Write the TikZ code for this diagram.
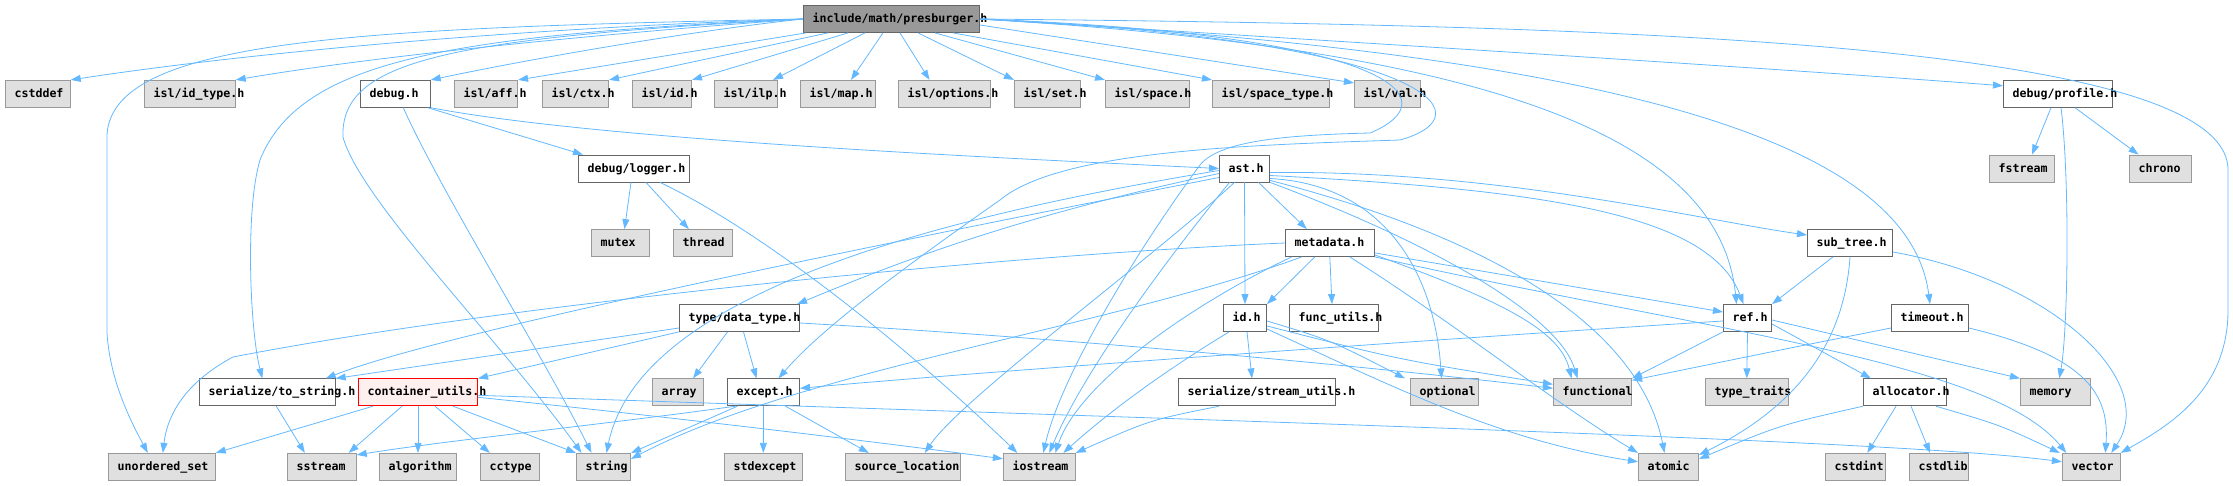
\documentclass[tikz,border=0pt]{standalone}
\usepackage{fontspec}
\setmonofont{DejaVu Sans Mono}
\usetikzlibrary{arrows.meta}

\definecolor{edgeblue}{HTML}{63B8FF}
\definecolor{sysfill}{HTML}{E0E0E0}
\definecolor{sysdraw}{HTML}{999999}
\definecolor{hdrdraw}{HTML}{666666}
\definecolor{rootfill}{HTML}{999999}
\definecolor{cyclefill}{HTML}{FFF0F0}

\tikzset{
  box/.style={draw, minimum height=27pt, inner sep=0pt, line width=0.8pt},
  sysbox/.style={box, draw=sysdraw, fill=sysfill},
  hdrbox/.style={box, draw=hdrdraw, fill=white},
  rootbox/.style={box, draw=hdrdraw, fill=rootfill},
  cyclebox/.style={box, draw=red, fill=cyclefill},
  fname/.style={anchor=base west, inner sep=0pt, font=\ttfamily\bfseries\fontsize{11.6pt}{12pt}\selectfont},
  dep/.style={draw=edgeblue, line width=0.8pt, -{Triangle[length=10pt,width=7pt]}},
}

\begin{document}
\begin{tikzpicture}[x=1pt,y=-1pt]
  \useasboundingbox (0,0) rectangle (2233,485);

  % headers of the project
  \node[rootbox, minimum width=176.3pt] (root) at (891.5,19) {};
  \node[fname] (root-t) at ([xshift=9.5pt,yshift=-3.5pt]root.west) {include/math/presburger.h};
  \node[cyclebox, minimum width=119.3pt] (containerutils) at (418,392.3) {};
  \node[fname] (containerutils-t) at ([xshift=9.5pt,yshift=-3.5pt]containerutils.west) {container\_utils.h};
  \foreach \n/\x/\y/\w/\t in {
      debug/395.3/93.8/70/debug.h, profile/2058/93.8/109.3/{debug/profile.h},
      logger/634/168.5/111.3/{debug/logger.h}, ast/1244.5/168.5/50.3/ast.h,
      metadata/1329.8/243/89/metadata.h, subtree/1850/243/85.3/sub\_tree.h,
      datatype/739.5/318/120.3/{type/data\_type.h}, id/1245/318/43.3/id.h,
      funcutils/1334/318/89.3/func\_utils.h, ref/1747.5/318/48.3/ref.h,
      timeout/1930/318/77.3/timeout.h,
      tostring/267.3/392.3/136/{serialize/to\_string.h}, except/763.5/392.3/72.3/except.h,
      streamutils/1257/392.3/157.3/{serialize/stream\_utils.h}, allocator/1905/392.3/83.3/allocator.h} {
    \node[hdrbox, minimum width=\w pt] (\n) at (\x,\y) {};
    \node[fname] (\n-t) at ([xshift=9.5pt,yshift=-3.5pt]\n.west) {\t};
  }

  % system and isl headers
  \foreach \n/\x/\y/\w/\t in {
      cstddef/37.8/93.8/65/cstddef, idtype/189.8/93.8/91/{isl/id\_type.h},
      aff/486/93.8/63.3/{isl/aff.h}, ctx/575.5/93.8/66.3/{isl/ctx.h},
      islid/662/93.8/59.3/{isl/id.h}, ilp/746/93.8/63.3/{isl/ilp.h},
      map/838/93.8/75.3/{isl/map.h}, options/944.5/93.8/92.3/{isl/options.h},
      set/1047.5/93.8/66.3/{isl/set.h}, space/1147.5/93.8/84.3/{isl/space.h},
      spacetype/1271/93.8/117.3/{isl/space\_type.h}, val/1387.3/93.8/66/{isl/val.h},
      fstream/2022/168.5/65.3/fstream, chrono/2160.5/168.5/62.3/chrono,
      mutex/620.5/243/58.3/mutex, thread/702.8/243/59/thread,
      array/678/392.3/51.3/array, optional/1444.5/392.3/68.3/optional,
      functional/1592.5/392.3/78.3/functional, typetraits/1746.8/392.3/83/type\_traits,
      memory/2055.3/392.3/70/memory,
      unorderedset/161.8/466.8/107/unordered\_set, sstream/321.8/466.8/69/sstream,
      algorithm/418/466.8/77.3/algorithm, cctype/509.8/466.8/59/cctype,
      string/603.5/466.8/54.3/string, stdexcept/763.3/466.8/78/stdexcept,
      sourceloc/902.8/466.8/115/source\_location, iostream/1039.3/466.8/72/iostream,
      atomic/1668.5/466.8/60.3/atomic, cstdint/1855.3/466.8/60/cstdint,
      cstdlib/1939/466.8/59.3/cstdlib, vector/2091.3/466.8/58/vector} {
    \node[sysbox, minimum width=\w pt] (\n) at (\x,\y) {};
    \node[fname] (\n-t) at ([xshift=9.5pt,yshift=-3.5pt]\n.west) {\t};
  }

  % include/math/presburger.h
  \draw[dep] (root.west) .. controls (600,25) and (300,45) .. (cstddef.north east);
  \draw[dep] (root.west) .. controls (650,30) and (400,52) .. (idtype.north east);
  \draw[dep] (root.west) .. controls (350,28) and (112,40) .. (107,135) -- (107,333)
    .. controls (110,380) and (130,420) .. ([xshift=-14pt]unorderedset.north);
  \draw[dep] (root.west) .. controls (450,35) and (300,60) .. (260,160)
    .. controls (245,210) and (250,330) .. ([xshift=-5pt]tostring.north);
  \draw[dep] (root.west) .. controls (450,38) and (340,60) .. (343,137)
    .. controls (360,200) and (500,340) .. ([xshift=-22pt]string.north);
  \draw[dep] (root.west) .. controls (700,30) and (550,55) .. (debug.north east);
  \draw[dep] ([xshift=3pt]root.south west) -- (aff.north east);
  \draw[dep] ([xshift=25pt]root.south west) -- (ctx.north east);
  \draw[dep] ([xshift=45pt]root.south west) -- (islid.north east);
  \draw[dep] ([xshift=62pt]root.south west) -- ([xshift=-5pt]ilp.north east);
  \draw[dep] ([xshift=80pt]root.south west) -- ([xshift=13pt]map.north);
  \draw[dep] ([xshift=97pt]root.south west) -- ([xshift=-15pt]options.north);
  \draw[dep] ([xshift=115pt]root.south west) -- (set.north west);
  \draw[dep] ([xshift=132pt]root.south west) -- (space.north west);
  \draw[dep] ([xshift=150pt]root.south west) -- (spacetype.north west);
  \draw[dep] ([yshift=-6pt]root.east) -- ([yshift=-3pt]val.north west);
  \draw[dep] (root.east) .. controls (1400,45) and (1800,70) .. ([yshift=8pt]profile.west);
  \draw[dep] (root.east) .. controls (1600,25) and (2228,40) .. (2228,170) -- (2228,310)
    .. controls (2228,390) and (2170,425) .. (vector.north east);
  \draw[dep] (root.east) .. controls (1500,50) and (1720,140) .. ([xshift=-11pt]ref.north);
  \draw[dep] (root.east) .. controls (1650,55) and (1910,150) .. (timeout.north);
  \draw[dep] (root.east) .. controls (1400,35) and (1450,100) .. (1370,133)
    .. controls (1290,135) and (1220,140) .. (1200,165)
    .. controls (1130,260) and (1060,380) .. ([xshift=4pt]iostream.north);
  \draw[dep] (root.east) .. controls (1430,40) and (1490,115) .. (1400,140)
    .. controls (1250,145) and (1060,150) .. (1000,200)
    .. controls (900,270) and (820,330) .. ([xshift=15pt]except.north);

  % debug.h, debug/logger.h, debug/profile.h
  \draw[dep] ([xshift=-3pt]debug.south east) -- ([xshift=5pt]logger.north west);
  \draw[dep] (debug.south east) .. controls (600,140) and (1000,158) .. (ast.west);
  \draw[dep] ([xshift=8pt]debug.south) .. controls (440,190) and (540,350) .. ([xshift=-12pt]string.north);
  \draw[dep] ([xshift=-3pt]logger.south) -- ([xshift=4pt]mutex.north);
  \draw[dep] ([xshift=12pt]logger.south) -- ([xshift=-14pt]thread.north);
  \draw[dep] ([xshift=26pt]logger.south) .. controls (760,230) and (900,340) .. ([xshift=-22pt]iostream.north);
  \draw[dep] ([xshift=-7pt]profile.south) -- ([xshift=10pt]fstream.north);
  \draw[dep] ([xshift=17pt]profile.south) -- ([xshift=-22pt]chrono.north);
  \draw[dep] ([xshift=3pt]profile.south) .. controls (2070,180) and (2068,330) .. ([xshift=4pt]memory.north);

  % ast.h
  \draw[dep] ([xshift=14pt]ast.south) -- ([xshift=-23pt]metadata.north);
  \draw[dep] (ast.south) -- (id.north);
  \draw[dep] ([yshift=-4pt]ast.east) .. controls (1500,170) and (1700,220) .. ([yshift=8pt]subtree.west);
  \draw[dep] ([yshift=-7pt]ast.east) .. controls (1550,190) and (1710,215) .. ([xshift=-4pt]ref.north);
  \draw[dep] ([yshift=-10pt]ast.east) .. controls (1390,185) and (1435,280) .. ([xshift=-3pt]optional.north);
  \draw[dep] (ast.south east) .. controls (1450,250) and (1560,320) .. ([xshift=-15pt]functional.north);
  \draw[dep] ([yshift=2pt]ast.south east) .. controls (1500,240) and (1640,330) .. ([xshift=-4pt]atomic.north);
  \draw[dep] ([yshift=-5pt]ast.west) .. controls (1000,220) and (880,270) .. ([xshift=-3pt]datatype.north east);
  \draw[dep] ([yshift=-9pt]ast.west) .. controls (900,240) and (450,330) .. ([xshift=-10pt]tostring.north east);
  \draw[dep] ([yshift=-2pt]ast.west) .. controls (950,215) and (640,290) .. ([xshift=3pt]string.north);
  \draw[dep] ([xshift=-10pt]ast.south) .. controls (1150,260) and (960,400) .. ([xshift=22pt]sourceloc.north);
  \draw[dep] ([xshift=-15pt]ast.south) .. controls (1150,280) and (1080,380) .. ([xshift=10pt]iostream.north);

  % metadata.h
  \draw[dep] ([xshift=-15pt]metadata.south) -- (id.north east);
  \draw[dep] (metadata.south) -- ([xshift=-2pt]funcutils.north);
  \draw[dep] ([xshift=-38pt]metadata.south) .. controls (1200,300) and (1080,380) .. ([xshift=16pt]iostream.north);
  \draw[dep] ([xshift=-28pt]metadata.south) .. controls (1100,330) and (800,370) .. ([yshift=-6pt]string.north east);
  \draw[dep] (metadata.west) .. controls (1000,255) and (500,305) .. (233,357)
    .. controls (190,380) and (168,410) .. ([xshift=1pt]unorderedset.north);
  \draw[dep] ([yshift=4pt]metadata.south east) -- ([yshift=6pt]ref.west);
  \draw[dep] ([yshift=2pt]metadata.south east) .. controls (1500,300) and (1560,330) .. ([xshift=-21pt]functional.north);
  \draw[dep] ([xshift=-25pt]metadata.south east) .. controls (1450,320) and (1550,400) .. (atomic.north west);
  \draw[dep] (metadata.south east) .. controls (1700,330) and (1990,360) .. ([xshift=-25pt]vector.north);

  % id.h, sub_tree.h, ref.h, timeout.h
  \draw[dep] ([xshift=2pt]id.south) -- ([xshift=-5pt]streamutils.north);
  \draw[dep] ([xshift=-16pt]id.south) .. controls (1150,380) and (1100,420) .. ([xshift=24pt]iostream.north);
  \draw[dep] ([yshift=-3pt]id.east) .. controls (1330,340) .. ([xshift=-5pt]optional.north west);
  \draw[dep] ([yshift=-8pt]id.east) .. controls (1400,360) .. ([yshift=8pt]functional.west);
  \draw[dep] ([yshift=-11pt]id.east) .. controls (1400,390) and (1500,440) .. ([yshift=5pt]atomic.west);
  \draw[dep] ([xshift=-17pt]subtree.south) -- (ref.north east);
  \draw[dep] (subtree.south) .. controls (1845,330) and (1810,400) .. ([yshift=-2pt]atomic.north east);
  \draw[dep] ([yshift=-9pt]subtree.east) .. controls (2050,280) and (2160,380) .. ([xshift=20pt]vector.north);
  \draw[dep] ([yshift=-3pt]ref.west) .. controls (1500,335) and (1000,370) .. ([yshift=4pt]except.east);
  \draw[dep] (ref.south west) -- (functional.north east);
  \draw[dep] (ref.south) -- (typetraits.north);
  \draw[dep] ([yshift=-6pt]ref.east) -- ([xshift=8pt]allocator.north west);
  \draw[dep] ([yshift=-2pt]ref.east) -- (memory.north west);
  \draw[dep] ([yshift=-10pt]timeout.west) .. controls (1780,350) .. ([yshift=12pt]functional.east);
  \draw[dep] ([yshift=-10pt]timeout.east) .. controls (2080,355) and (2110,390) .. ([xshift=14pt]vector.north);

  % type/data_type.h, container_utils.h, except.h
  \draw[dep] ([xshift=-12pt]datatype.south) -- ([xshift=15pt]array.north);
  \draw[dep] ([xshift=4pt]datatype.south) -- ([xshift=-7pt]except.north);
  \draw[dep] (datatype.south west) -- (containerutils.north east);
  \draw[dep] ([yshift=-10pt]datatype.west) -- (tostring.north east);
  \draw[dep] ([yshift=-5pt]datatype.east) .. controls (1100,340) and (1400,370) .. ([yshift=4pt]functional.west);
  \draw[dep] ([xshift=-45pt]containerutils.south) -- (unorderedset.north east);
  \draw[dep] ([xshift=-16pt]containerutils.south) -- ([xshift=-8pt]sstream.north east);
  \draw[dep] (containerutils.south) -- (algorithm.north);
  \draw[dep] ([xshift=17pt]containerutils.south) -- ([xshift=-20pt]cctype.north);
  \draw[dep] ([xshift=35pt]containerutils.south) -- (string.north west);
  \draw[dep] ([yshift=-5pt]containerutils.east) .. controls (700,420) and (900,445) .. ([yshift=8pt]iostream.west);
  \draw[dep] ([yshift=-3pt]containerutils.east) .. controls (1200,420) and (1900,440) .. ([yshift=5pt]vector.west);
  \draw[dep] (except.south) -- (stdexcept.north);
  \draw[dep] ([xshift=-28pt]except.south) .. controls (600,425) and (450,440) .. ([yshift=-2pt]sstream.north east);
  \draw[dep] ([xshift=-26pt]except.south) -- (string.north east);
  \draw[dep] ([xshift=22pt]except.south) -- ([xshift=-34pt]sourceloc.north);
  \draw[dep] ([xshift=9pt]tostring.south) -- ([xshift=-17pt]sstream.north);
  \draw[dep] ([xshift=-38pt]streamutils.south) .. controls (1150,420) .. (iostream.north east);

  % allocator.h
  \draw[dep] (allocator.south west) .. controls (1780,425) .. ([yshift=-6pt]atomic.north east);
  \draw[dep] ([xshift=-9pt]allocator.south) -- ([xshift=12pt]cstdint.north);
  \draw[dep] ([xshift=6pt]allocator.south) -- ([xshift=-9pt]cstdlib.north);
  \draw[dep] ([xshift=31pt]allocator.south) .. controls (2000,425) .. ([xshift=-2pt]vector.north west);
\end{tikzpicture}
\end{document}
